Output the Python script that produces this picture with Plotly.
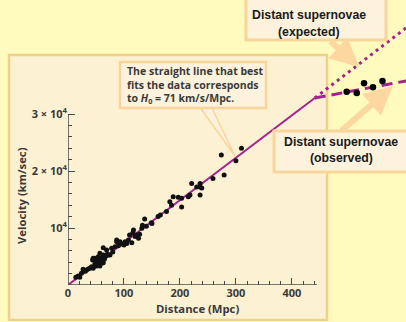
import plotly.graph_objects as go

# ---------------- data ----------------
dist_mpc = [14, 18, 21, 24, 27, 31, 33, 36, 39, 42, 45, 44, 45, 48, 48, 50, 51, 51, 53, 54,
            55, 56, 57, 57, 58, 60, 60, 62, 63, 63, 63, 65, 66, 68, 69, 70, 72, 75, 78, 80,
            84, 87, 87, 90, 93, 96, 100, 102, 105, 108, 110, 114, 116, 117, 120, 123, 126, 128, 132, 133,
            137, 140, 149, 150, 161, 165, 176, 182, 185, 188, 197, 203, 203, 215, 218, 221, 230, 236, 236, 239,
            236, 259, 274, 279, 300, 310]
vel_kms = [1350, 1600, 1350, 2050, 2750, 2400, 2630, 2800, 2920, 3200, 2920, 4400, 4700, 3680, 4700, 3900, 3330, 4390, 4100, 4970,
           3600, 4090, 3330, 5560, 4300, 4680, 3800, 4200, 3920, 5260, 6550, 4500, 4970, 5100, 6140, 5400, 5260, 5260, 6430, 5800,
           6720, 7900, 7600, 6900, 7600, 7190, 7000, 7600, 7300, 7900, 8770, 7430, 9180, 9650, 8500, 8770, 8190, 8900, 9940, 10500,
           11600, 10300, 10900, 10800, 12000, 12280, 12900, 14600, 14000, 15500, 15400, 15200, 13700, 15500, 15800, 17800, 17200, 17800, 17200, 17000,
           15800, 18700, 22800, 19300, 21800, 24000]

far_sn_dist = [498, 516, 529, 545, 562]
far_sn_vel = [33900, 33700, 35400, 34700, 35800]

fit_dist = [0, 441]
fit_vel = [0, 32800]
expected_dist = [441, 620]
expected_vel = [32800, 46300]
observed_dist = [441, 620]
observed_vel = [32800, 36100]

x_tick_vals = [0, 100, 200, 300, 400]
x_tick_text = ["0", "100", "200", "300", "400"]
x_minor_vals = [20, 40, 60, 80, 120, 140, 160, 180, 220, 240, 260, 280, 320, 340, 360, 380, 420, 440]
y_tick_vals = [10000, 20000, 30000]
y_tick_text = ["10<sup>4</sup>", "2 × 10<sup>4</sup>", "3 × 10<sup>4</sup>"]
y_minor_vals = [2000, 4000, 6000, 8000, 12000, 14000, 16000, 18000, 22000, 24000, 26000, 28000]

# ---------------- layout geometry ----------------
W, H = 406, 322
ML, MR, MT, MB = 68, 0, 0, 37
PW, PH = W - ML - MR, H - MT - MB


def px(x):
    return (x - ML) / PW


def py(y):
    return (H - MB - y) / PH


PURPLE = "#a2238f"
OUTER = "#fffabd"
PANEL = "#fdf1d3"
PANEL_EDGE = "#efd28a"
BOX = "#fdf2dc"
BOX_EDGE = "#f8d69b"
ARROW = "#fcd7a0"
AXIS = "#4a4a4a"
TXT = "#3a3a3a"

fig = go.Figure()

fig.add_trace(go.Scatter(x=fit_dist, y=fit_vel, mode="lines",
                         line=dict(color=PURPLE, width=2), hoverinfo="skip"))
fig.add_trace(go.Scatter(x=expected_dist, y=expected_vel, mode="lines",
                         line=dict(color=PURPLE, width=3, dash="3px,4px"), hoverinfo="skip"))
fig.add_trace(go.Scatter(x=observed_dist, y=observed_vel, mode="lines",
                         line=dict(color=PURPLE, width=3, dash="11px,6px"), hoverinfo="skip"))
fig.add_trace(go.Scatter(x=dist_mpc, y=vel_kms, mode="markers",
                         marker=dict(color="#111111", size=5)))
fig.add_trace(go.Scatter(x=far_sn_dist, y=far_sn_vel, mode="markers",
                         marker=dict(color="#000000", size=6.5)))

shapes = []
# inner beige panel
shapes.append(dict(type="rect", xref="paper", yref="paper", x0=px(9), x1=px(327), y0=py(320), y1=py(55),
                   fillcolor=PANEL, line=dict(color=PANEL_EDGE, width=2.5), layer="below"))
# axis lines
shapes.append(dict(type="line", xref="x", yref="y", x0=0, x1=445, y0=0, y1=0,
                   line=dict(color=AXIS, width=1.5)))
shapes.append(dict(type="line", xref="x", yref="y", x0=0, x1=0, y0=0, y1=30000,
                   line=dict(color=AXIS, width=1.5)))
# H0 callout pointer (wedge) and box
shapes.append(dict(type="path", xref="paper", yref="paper",
                   path=f"M {px(199)} {py(106)} L {px(235)} {py(156)} L {px(211)} {py(106)} Z",
                   fillcolor=BOX, line=dict(color=BOX_EDGE, width=1.5), layer="above"))
shapes.append(dict(type="rect", xref="paper", yref="paper", x0=px(120), x1=px(266), y0=py(108), y1=py(62),
                   fillcolor=BOX, line=dict(color=BOX_EDGE, width=2.5), layer="above"))
# supernova boxes
shapes.append(dict(type="rect", xref="paper", yref="paper", x0=px(246), x1=px(386), y0=py(40), y1=py(-4),
                   fillcolor=BOX, line=dict(color=BOX_EDGE, width=3), layer="above"))
shapes.append(dict(type="rect", xref="paper", yref="paper", x0=px(274), x1=px(410), y0=py(172), y1=py(131),
                   fillcolor=BOX, line=dict(color=BOX_EDGE, width=3), layer="above"))

annotations = []
# arrows
annotations.append(dict(x=px(359), y=py(67), xref="paper", yref="paper", text="", showarrow=True,
                        ax=-30, ay=-27, arrowcolor=ARROW, arrowwidth=6, arrowhead=2, arrowsize=0.95, standoff=0))
annotations.append(dict(x=px(393), y=py(86), xref="paper", yref="paper", text="", showarrow=True,
                        ax=-53, ay=46, arrowcolor=ARROW, arrowwidth=6, arrowhead=2, arrowsize=0.95, standoff=0))

callout_font = dict(family="Open Sans", size=10.5, color=TXT, weight="bold")
for line_text, yy in [("The straight line that best", 71),
                      ("fits the data corresponds", 85),
                      ("to <i>H</i><sub>0</sub> = 71 km/s/Mpc.", 99)]:
    annotations.append(dict(x=px(125), y=py(yy), xref="paper", yref="paper", text=line_text,
                            showarrow=False, xanchor="left", yanchor="middle", font=callout_font))

sn_font = dict(family="Liberation Sans", size=12.3, color="#1a1a1a", weight="bold")
for line_text, xx, yy in [("Distant supernovae", 309, 15), ("(expected)", 309, 32),
                          ("Distant supernovae", 341, 142), ("(observed)", 341, 158)]:
    annotations.append(dict(x=px(xx), y=py(yy), xref="paper", yref="paper", text=line_text,
                            showarrow=False, xanchor="center", yanchor="middle", font=sn_font))

axis_title_font = dict(family="Open Sans", size=11.3, color=TXT, weight="bold")
annotations.append(dict(x=px(197), y=py(308), xref="paper", yref="paper", text="Distance (Mpc)",
                        showarrow=False, xanchor="center", yanchor="middle", font=axis_title_font))
annotations.append(dict(x=px(22), y=py(196), xref="paper", yref="paper", text="Velocity (km/sec)",
                        showarrow=False, xanchor="center", yanchor="middle", textangle=-90, font=axis_title_font))

tick_font = dict(family="Open Sans", size=11, color=TXT, weight="bold")

fig.update_layout(
    width=W, height=H,
    margin=dict(l=ML, r=MR, t=MT, b=MB, pad=0),
    paper_bgcolor=OUTER, plot_bgcolor="rgba(0,0,0,0)",
    showlegend=False,
    shapes=shapes, annotations=annotations,
    xaxis=dict(range=[0, 604], showgrid=False, zeroline=False, showline=False,
               tickmode="array", tickvals=x_tick_vals, ticktext=x_tick_text,
               ticks="inside", ticklen=7, tickwidth=1, tickcolor=AXIS, tickfont=tick_font,
               minor=dict(tickmode="array", tickvals=x_minor_vals, ticks="inside", ticklen=4,
                          tickwidth=1, tickcolor=AXIS, showgrid=False)),
    yaxis=dict(range=[0, 50000], showgrid=False, zeroline=False, showline=False,
               tickmode="array", tickvals=y_tick_vals, ticktext=y_tick_text,
               ticks="inside", ticklen=7, tickwidth=1, tickcolor=AXIS, tickfont=tick_font,
               minor=dict(tickmode="array", tickvals=y_minor_vals, ticks="inside", ticklen=4,
                          tickwidth=1, tickcolor=AXIS, showgrid=False)),
)

fig.write_html("out.html", config={"displayModeBar": False},
               post_script="document.body.style.margin='0';document.body.style.overflow='hidden';")
